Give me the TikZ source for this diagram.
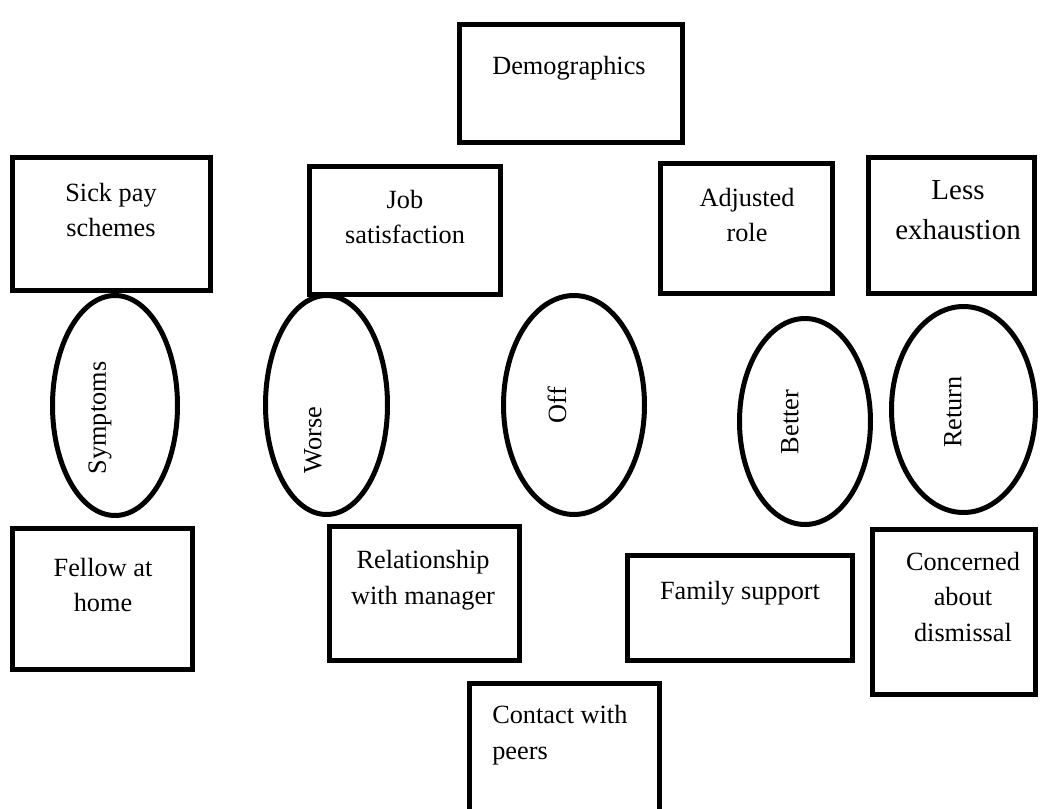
\documentclass[tikz,border=0pt]{standalone}
\usepackage{fontspec}
\setmainfont{Liberation Serif}
\usetikzlibrary{shapes.geometric}

\newcommand{\px}{0.025cm}

\begin{document}
\begin{tikzpicture}[x=0.025cm, y=-0.025cm,
    box/.style 2 args={draw, line width=5*\px, inner sep=0pt,
        minimum width=#1*\px, minimum height=#2*\px},
    oval/.style 2 args={draw, ellipse, line width=5*\px, inner sep=0pt,
        minimum width=#1*\px, minimum height=#2*\px},
    lbl/.style={align=center, inner sep=0pt,
        font=\fontsize{18.7pt}{25.5pt}\selectfont}]

\useasboundingbox (0,0) rectangle (1042,809);

\node(demo)[box={223}{118}] at (571, 83.5) {};
\node(demotext)[lbl] at (569, 68) {Demographics};

\node(sick)[box={198}{133}] at (111.5, 224) {};
\node(sicktext)[lbl] at (111, 210) {Sick pay\\schemes};
\node(job)[box={191}{128}] at (405, 230.5) {};
\node(jobtext)[lbl] at (405, 217) {Job\\satisfaction};
\node(adj)[box={172}{130}] at (746.5, 228.5) {};
\node(adjtext)[lbl] at (747, 215) {Adjusted\\role};
\node(less)[box={166}{136}] at (951.5, 225.5) {};
\node(lesstext)[lbl, font=\fontsize{20.6pt}{28.5pt}\selectfont] at (958, 210) {Less\\exhaustion};

\node(sym)[oval={125}{220}] at (115, 405.5) {};
\node(symtext)[lbl, rotate=90] at (100, 418) {Symptoms};
\node(worse)[oval={122}{219}] at (326.5, 405) {};
\node(worsetext)[lbl, rotate=90] at (313, 440) {Worse};
\node(off)[oval={141}{219}] at (574, 405) {};
\node(offtext)[lbl, rotate=90] at (557, 405) {Off};
\node(better)[oval={131}{206}] at (805, 421.5) {};
\node(bettertext)[lbl, rotate=90] at (790, 422) {Better};
\node(ret)[oval={144}{206}] at (963.5, 409.5) {};
\node(rettext)[lbl, rotate=90] at (953, 412) {Return};

\node(fellow)[box={180}{141}] at (102.5, 599) {};
\node(fellowtext)[lbl] at (103, 585) {Fellow at\\home};
\node(rel)[box={190}{134}] at (424.5, 593.5) {};
\node(reltext)[lbl] at (423, 580) {Relationship\\with manager};
\node(fam)[box={225}{105}] at (740, 608) {};
\node(famtext)[lbl] at (740, 593) {Family support};
\node(conc)[box={163}{165}] at (954, 612) {};
\node(conctext)[lbl] at (963, 597) {Concerned\\about\\dismissal};

\node(peers)[box={190}{148}] at (564.5, 757) {};
\node(peerstext)[lbl, align=left, anchor=west] at (492, 735) {Contact with\\peers};
\end{tikzpicture}
\end{document}
